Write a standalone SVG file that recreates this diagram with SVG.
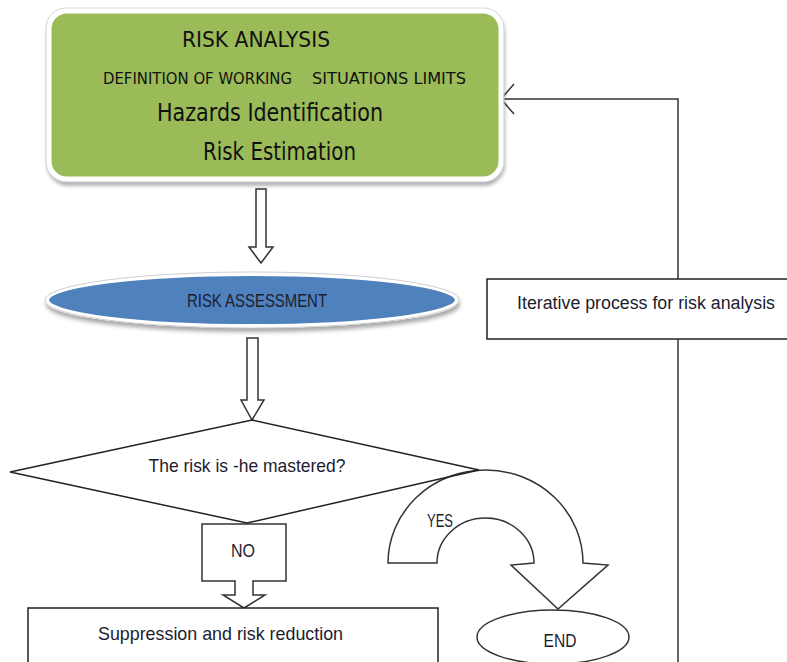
<svg xmlns="http://www.w3.org/2000/svg" width="787" height="662" viewBox="0 0 787 662">
  <style>
    .comic { font-family: "DejaVu Sans", "Noto Sans", sans-serif; fill: #111; }
    .calibri { font-family: "Liberation Sans", "Open Sans", sans-serif; fill: #1c1c30; }
    .outline { fill: #ffffff; stroke: #333333; stroke-width: 1.5; stroke-linejoin: miter; }
    .wire { fill: none; stroke: #333333; stroke-width: 1.5; }
  </style>
  <defs>
    <filter id="softShadow" x="-10%" y="-10%" width="120%" height="130%">
      <feGaussianBlur in="SourceAlpha" stdDeviation="2"/>
      <feOffset dx="1" dy="4" result="off"/>
      <feComponentTransfer><feFuncA type="linear" slope="0.35"/></feComponentTransfer>
      <feMerge><feMergeNode/><feMergeNode in="SourceGraphic"/></feMerge>
    </filter>
  </defs>
  <rect width="787" height="662" fill="#ffffff"/>

  <!-- connectors -->
  <g id="connectors">
    <!-- feedback loop back to risk analysis -->
    <polyline class="wire" points="678,662 678,339"/>
    <polyline class="wire" points="678,279 678,99 502,99"/>
    <polyline class="wire" points="514,84 501,99 514,114"/>
    <!-- block arrows -->
    <path class="outline" d="M256,189 L266,189 L266,247 L273,247 L261,263 L249,247 L256,247 Z"/>
    <path class="outline" d="M247,338 L258,338 L258,400 L264,400 L252,420 L241,400 L247,400 Z"/>
    <g id="no-arrow">
      <path class="outline" d="M202,524 L286,524 L286,581 L253,581 L253,595 L265,595 L244,608 L223,595 L235,595 L235,581 L202,581 Z"/>
      <text class="calibri" x="243" y="557" font-size="18" text-anchor="middle" textLength="24" lengthAdjust="spacingAndGlyphs">NO</text>
    </g>
    <g id="yes-arrow">
      <path class="outline" d="M388,563 A97.5,93 0 0 1 583,563 L608,565 L558,609 L511,565 L534,563 A48.5,45 0 0 0 437,563 Z"/>
      <text class="calibri" x="440" y="527" font-size="18" text-anchor="middle" textLength="26" lengthAdjust="spacingAndGlyphs">YES</text>
    </g>
  </g>

  <!-- risk analysis block -->
  <g id="risk-analysis">
    <rect x="49" y="11" width="452" height="168" rx="18" ry="18" fill="#9bbb59" stroke="#ffffff" stroke-width="5" filter="url(#softShadow)"/>
    <rect x="46" y="8" width="458" height="174" rx="20" ry="20" fill="none" stroke="#d8d8d8" stroke-width="1"/>
    <text class="comic" x="256" y="47" font-size="21" text-anchor="middle" textLength="148" lengthAdjust="spacingAndGlyphs">RISK ANALYSIS</text>
    <text class="comic" x="103" y="84" font-size="15" textLength="189" lengthAdjust="spacingAndGlyphs">DEFINITION OF WORKING</text>
    <text class="comic" x="312" y="84" font-size="15" textLength="154" lengthAdjust="spacingAndGlyphs">SITUATIONS LIMITS</text>
    <text class="comic" x="157" y="121" font-size="25" textLength="226" lengthAdjust="spacingAndGlyphs">Hazards Identification</text>
    <text class="comic" x="203" y="160" font-size="25" textLength="153" lengthAdjust="spacingAndGlyphs">Risk Estimation</text>
  </g>

  <!-- risk assessment -->
  <g id="risk-assessment">
    <ellipse cx="252" cy="300" rx="205" ry="26" fill="#4f81bd" stroke="#ffffff" stroke-width="4" filter="url(#softShadow)"/>
    <ellipse cx="252" cy="300" rx="207" ry="28" fill="none" stroke="#cfcfcf" stroke-width="1"/>
    <text class="calibri" x="257" y="307" font-size="19" text-anchor="middle" textLength="140" lengthAdjust="spacingAndGlyphs">RISK ASSESSMENT</text>
  </g>

  <!-- decision -->
  <g id="decision">
    <path d="M252,420 L479,470 L247,523 L10,472 Z" fill="none" stroke="#222222" stroke-width="1.5"/>
    <text class="calibri" x="247" y="472" font-size="19" text-anchor="middle" textLength="197" lengthAdjust="spacingAndGlyphs">The risk is -he mastered?</text>
  </g>

  <!-- suppression -->
  <g id="suppression">
    <rect x="28" y="608" width="410" height="70" fill="#ffffff" stroke="#222222" stroke-width="1.5"/>
    <text class="calibri" x="98" y="640" font-size="19" textLength="245" lengthAdjust="spacingAndGlyphs">Suppression and risk reduction</text>
  </g>

  <!-- end -->
  <g id="end">
    <ellipse cx="553" cy="637" rx="76" ry="27" fill="#ffffff" stroke="#333333" stroke-width="1.5"/>
    <text class="calibri" x="560" y="647" font-size="19" text-anchor="middle" textLength="33" lengthAdjust="spacingAndGlyphs">END</text>
  </g>

  <!-- iterative process note -->
  <g id="iterative">
    <rect x="487" y="279" width="310" height="60" fill="#ffffff" stroke="#222222" stroke-width="1.5"/>
    <text class="calibri" x="517" y="309" font-size="18" textLength="258" lengthAdjust="spacingAndGlyphs">Iterative process for risk analysis</text>
  </g>
</svg>
